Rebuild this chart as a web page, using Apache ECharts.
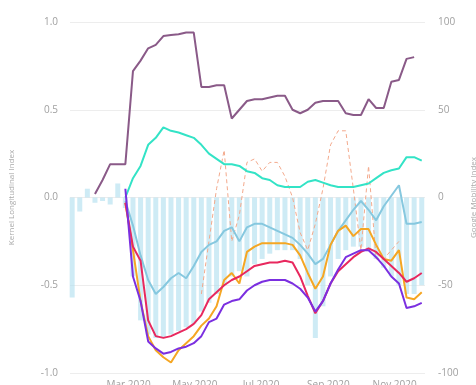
<!DOCTYPE html>
<html><head><meta charset="utf-8">
<script src="https://cdn.jsdelivr.net/npm/echarts@6/dist/echarts.min.js"></script>
<style>html,body{margin:0;padding:0;background:#fff}#c{width:476px;height:385px}</style>
</head><body><div id="c"></div>
<script>
// weekly dates
const weeks = ['2020-01-09','2020-01-16','2020-01-23','2020-01-30','2020-02-06','2020-02-13','2020-02-20','2020-02-27',
'2020-03-05','2020-03-12','2020-03-19','2020-03-26','2020-04-02','2020-04-09','2020-04-16','2020-04-23','2020-04-30',
'2020-05-07','2020-05-14','2020-05-21','2020-05-28','2020-06-04','2020-06-11','2020-06-18','2020-06-25',
'2020-07-02','2020-07-09','2020-07-16','2020-07-23','2020-07-30','2020-08-06','2020-08-13','2020-08-20','2020-08-27',
'2020-09-03','2020-09-10','2020-09-17','2020-09-24','2020-10-01','2020-10-08','2020-10-15','2020-10-22','2020-10-29',
'2020-11-05','2020-11-12','2020-11-19','2020-11-26'];
const tickDates = ['2020-03-01','2020-05-01','2020-07-01','2020-09-01','2020-11-01'];
const tickLabels = ['Mar 2020','May 2020','Jul 2020','Sep 2020','Nov 2020'];
const leftTicks = ['-1.0','-0.5','0.0','0.5','1.0'];
const rightTicks = ['-100','-50','0','50','100'];

// Google mobility (bars, right axis)
const mobility = [-57,-8,5,-3,-2,-4,8,-6,-45,-70,-78,-80,-80,-78,-76,-74,-72,-65,-60,-55,-50,-45,-42,-45,-38,-35,-32,-30,-30,-30,-35,-50,-80,-62,-45,-35,-30,-28,-28,-30,-35,-40,-45,-50,-55,-55,-50];
// stringency (right axis)
const stringency = [null,null,null,2,10,19,19,19,72,78,85,87,92,92.6,93,94,94,63,63,64,64,45,50,55,56,56,57,58,58,50,48,50,54,55,55,55,48,47,47,56,51,51,66,67,79,80,null];
// kernel indices (left axis)
const cyan = [null,null,null,null,null,null,null,0,0.11,0.18,0.30,0.34,0.40,0.38,0.37,0.355,0.34,0.30,0.25,0.22,0.19,0.19,0.18,0.15,0.14,0.11,0.10,0.07,0.06,0.06,0.06,0.09,0.10,0.085,0.07,0.06,0.06,0.06,0.07,0.08,0.11,0.14,0.155,0.165,0.23,0.23,0.21];
const sky = [null,null,null,null,null,null,null,-0.02,-0.16,-0.33,-0.47,-0.55,-0.51,-0.46,-0.43,-0.46,-0.39,-0.31,-0.27,-0.25,-0.19,-0.17,-0.25,-0.17,-0.15,-0.15,-0.17,-0.19,-0.21,-0.23,-0.27,-0.32,-0.38,-0.35,-0.27,-0.19,-0.13,-0.07,-0.02,-0.07,-0.13,-0.05,0.01,0.07,-0.15,-0.15,-0.14];
const orange = [null,null,null,null,null,null,null,-0.03,-0.30,-0.59,-0.79,-0.87,-0.91,-0.94,-0.87,-0.83,-0.79,-0.73,-0.69,-0.62,-0.47,-0.43,-0.49,-0.31,-0.28,-0.26,-0.26,-0.26,-0.26,-0.27,-0.33,-0.43,-0.52,-0.45,-0.27,-0.19,-0.16,-0.22,-0.18,-0.18,-0.27,-0.35,-0.36,-0.30,-0.57,-0.58,-0.54];
const red = [null,null,null,null,null,null,null,-0.03,-0.28,-0.36,-0.70,-0.79,-0.80,-0.79,-0.77,-0.75,-0.72,-0.67,-0.58,-0.54,-0.50,-0.47,-0.45,-0.42,-0.39,-0.38,-0.37,-0.37,-0.36,-0.37,-0.45,-0.56,-0.66,-0.59,-0.49,-0.42,-0.38,-0.34,-0.31,-0.29,-0.31,-0.35,-0.39,-0.43,-0.48,-0.46,-0.43];
const purple = [null,null,null,null,null,null,null,0.05,-0.45,-0.59,-0.82,-0.86,-0.89,-0.88,-0.86,-0.85,-0.83,-0.79,-0.71,-0.69,-0.61,-0.59,-0.58,-0.53,-0.50,-0.48,-0.47,-0.47,-0.47,-0.49,-0.52,-0.57,-0.65,-0.59,-0.49,-0.41,-0.34,-0.32,-0.30,-0.30,-0.34,-0.39,-0.45,-0.49,-0.63,-0.62,-0.60];
const dashed = [null,null,null,null,null,null,null,null,null,null,null,null,null,null,null,null,null,-0.55,-0.25,0.05,0.27,-0.25,-0.10,0.20,0.22,0.15,0.20,0.20,0.12,0.0,-0.20,-0.30,-0.15,0.05,0.30,0.38,0.38,0.05,-0.30,0.18,-0.35,-0.35,-0.30,-0.25,null,null,null];

const ts = d => Date.UTC(+d.slice(0,4), +d.slice(5,7)-1, +d.slice(8,10));
const pair = arr => weeks.map((d,i)=>[ts(d), arr[i]]);
const labelMap = {};
tickDates.forEach((d,i)=>{ labelMap[ts(d)] = tickLabels[i]; });

const font = 'Open Sans';
const chart = echarts.init(document.getElementById('c'), null, {renderer:'canvas'});
const lineS = (name, data, color, extra) => Object.assign({
  name, type:'line', yAxisIndex:0, data: pair(data), showSymbol:false, connectNulls:false,
  lineStyle:{color, width:2}, itemStyle:{color}, z:3
}, extra||{});
chart.setOption({
  animation:false,
  textStyle:{fontFamily:font},
  grid:{left:70, right:51, top:22, bottom:12, containLabel:false, outerBoundsMode:'none'},
  xAxis:{
    type:'value', min:ts('2020-01-07'), max:ts('2020-11-29'),
    axisLine:{show:false}, axisTick:{show:false}, splitLine:{show:false},
    axisLabel:{
      customValues: tickDates.map(ts),
      formatter: v => labelMap[v] || '',
      color:'#a0a0a0', fontSize:10, margin:7, fontFamily:font, hideOverlap:false
    }
  },
  yAxis:[
    {type:'value', min:-1, max:1, interval:0.5, position:'left',
     name:'Kernel Longitudinal Index', nameLocation:'middle', nameGap:54, nameRotate:90,
     nameTextStyle:{color:'#aaa', fontSize:8, fontFamily:font},
     axisLine:{show:false}, axisTick:{show:false},
     axisLabel:{color:'#a0a0a0', fontSize:10, margin:12, fontFamily:font,
       formatter: v => leftTicks[Math.round((v+1)/0.5)]},
     splitLine:{lineStyle:{color:'#ededed', width:1}}},
    {type:'value', min:-100, max:100, interval:50, position:'right',
     name:'Google Mobility Index', nameLocation:'middle', nameGap:40, nameRotate:90,
     nameTextStyle:{color:'#aaa', fontSize:8, fontFamily:font},
     axisLine:{show:false}, axisTick:{show:false},
     axisLabel:{color:'#a0a0a0', fontSize:10, margin:13, fontFamily:font,
       formatter: v => rightTicks[Math.round((v+100)/50)]},
     splitLine:{show:false}}
  ],
  series:[
    {name:'Mobility', type:'bar', yAxisIndex:1, data: pair(mobility), barWidth:5,
     itemStyle:{color:'rgba(173,221,238,0.6)'}, z:1},
    lineS('Stringency', stringency, '#8a5a88', {yAxisIndex:1, lineStyle:{color:'#8a5a88', width:2}}),
    lineS('Dashed', dashed, '#f3a98c', {lineStyle:{color:'#f3a98c', width:1, type:[4,3]}, z:2}),
    lineS('Cyan', cyan, '#33e3c6'),
    lineS('Sky', sky, '#86c8df'),
    lineS('Orange', orange, '#f5a623'),
    lineS('Red', red, '#e8285e'),
    lineS('Purple', purple, '#7b2fe0')
  ]
});
</script></body></html>
